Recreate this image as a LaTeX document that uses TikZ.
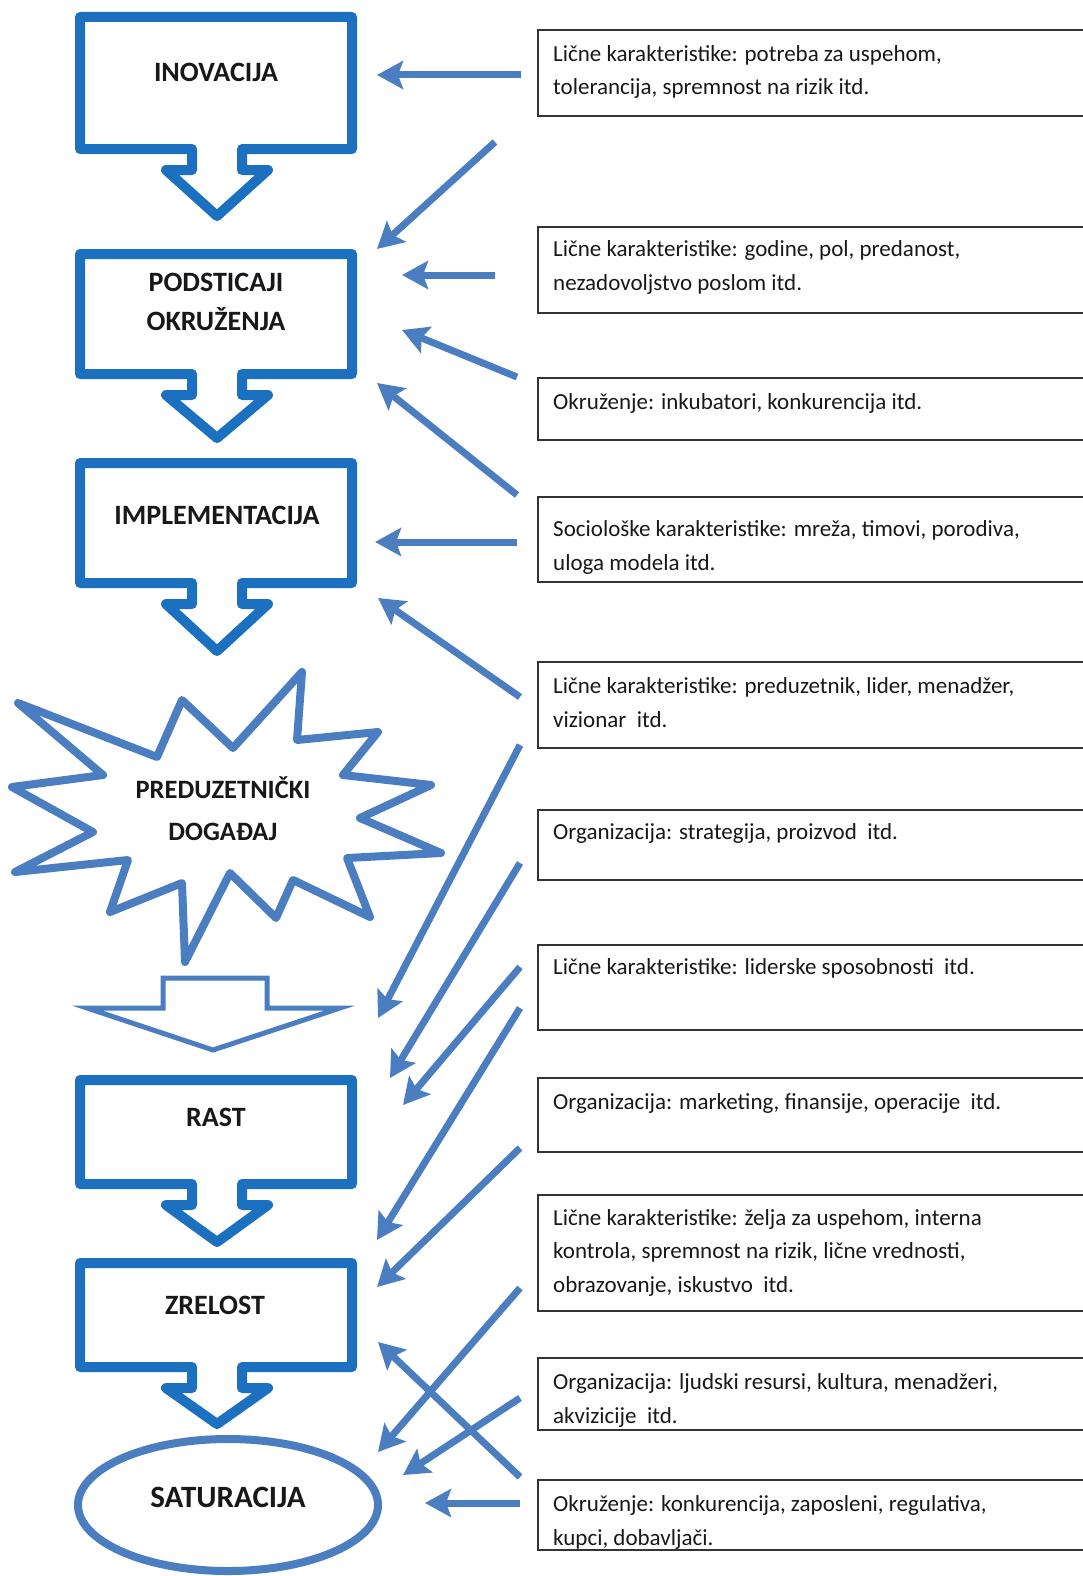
\documentclass[tikz,border=0pt]{standalone}
\usepackage{fontspec}
\setmainfont{Carlito}
\usetikzlibrary{arrows.meta}
\definecolor{boxblue}{RGB}{28,112,192}
\definecolor{flowblue}{RGB}{74,126,192}
\definecolor{ink}{RGB}{24,24,24}
\begin{document}
\begin{tikzpicture}[x=1pt,y=-1pt,
  procline/.style={draw=boxblue, line width=10pt, line join=round},
  shapeline/.style={draw=flowblue, line width=8pt, line join=round},
  proctext/.style={font=\fontsize{28}{39}\selectfont\bfseries, text=ink, align=center, inner sep=0pt},
  factbox/.style={draw=black!80, line width=2pt},
  % the base anchor of a multi-line node sits on its last line
  facttext/.style={font=\fontsize{23}{33.5}\selectfont, text=ink, align=left, anchor=base west, inner sep=0pt},
  flow/.style={draw=flowblue, line width=7pt, -{Stealth[length=26pt,width=28pt,inset=5pt]}},
  ]
\useasboundingbox (0,0) rectangle (1083,1576);
\clip (0,0) rectangle (1083,1576);

% ---------- process stages: box with a downward arrow below ----------
% #1 top, #2 bottom, #3 arrow depth below the box
\newcommand\stagebox[3]{%
  \draw[procline] (80,#1) -- (352,#1) -- (352,#2) -- (242,#2) -- (242,#2+21)
    -- (268,#2+21) -- (217,#2+#3) -- (166,#2+21) -- (192,#2+21) -- (192,#2)
    -- (80,#2) -- cycle;}
\stagebox{17}{149}{67}
\stagebox{254}{374}{64}
\stagebox{463}{583}{68}
\stagebox{1080}{1184}{58}
\stagebox{1263}{1367}{57}

\node[proctext] (inov) at (216,72) {INOVACIJA};
\node[proctext] (podst) at (216,302) {PODSTICAJI\\OKRUŽENJA};
\node[proctext] (impl) at (217,515) {IMPLEMENTACIJA};
\node[proctext] (rast) at (216,1117) {RAST};
\node[proctext] (zrel) at (215,1305) {ZRELOST};

% ---------- entrepreneurial event: burst ----------
\draw[shapeline] (302,672) -- (297,740) -- (378,732) -- (343,775) -- (431,785)
  -- (360,818) -- (441,853) -- (347,858) -- (370,917) -- (293,880) -- (276,918)
  -- (230,873) -- (185,962) -- (182,883) -- (110,912) -- (128,860) -- (15,872)
  -- (93,832) -- (12,787) -- (103,775) -- (18,703) -- (157,757) -- (182,700)
  -- (233,748) -- cycle;
\node[proctext, font=\fontsize{26.5}{42}\selectfont\bfseries] (event) at (223,809) {PREDUZETNIČKI\\DOGAĐAJ};

% hollow block arrow under the burst
\draw[draw=flowblue, line width=5pt, line join=miter] (163,978) -- (267,978) -- (267,1008)
  -- (340,1008) -- (213,1050) -- (87,1008) -- (163,1008) -- cycle;

% ---------- saturation ----------
\draw[shapeline] (228,1505) ellipse [x radius=150pt, y radius=66pt];
\node[proctext, font=\fontsize{31}{36}\selectfont\bfseries] (satur) at (228,1497) {SATURACIJA};

% ---------- factor boxes ----------
\draw[factbox] (538,30) rectangle (1100,116);
\node[facttext] (f1) at (553,95) {Lične karakteristike: potreba za uspehom,\\tolerancija, spremnost na rizik itd.};
\draw[factbox] (538,227) rectangle (1100,313);
\node[facttext] (f2) at (553,290) {Lične karakteristike: godine, pol, predanost,\\nezadovoljstvo poslom itd.};
\draw[factbox] (538,378) rectangle (1100,440);
\node[facttext] (f3) at (553,409) {Okruženje: inkubatori, konkurencija itd.};
\draw[factbox] (538,497) rectangle (1100,582);
\node[facttext] (f4) at (553,570) {Sociološke karakteristike: mreža, timovi, porodiva,\\uloga modela itd.};
\draw[factbox] (538,662) rectangle (1100,748);
\node[facttext] (f5) at (553,727) {Lične karakteristike: preduzetnik, lider, menadžer,\\vizionar\ \ itd.};
\draw[factbox] (538,810) rectangle (1100,880);
\node[facttext] (f6) at (553,839) {Organizacija: strategija, proizvod\ \ itd.};
\draw[factbox] (538,945) rectangle (1100,1030);
\node[facttext] (f7) at (553,974) {Lične karakteristike: liderske sposobnosti\ \ itd.};
\draw[factbox] (538,1078) rectangle (1100,1152);
\node[facttext] (f8) at (553,1109) {Organizacija: marketing, finansije, operacije\ \ itd.};
\draw[factbox] (538,1195) rectangle (1100,1311);
\node[facttext] (f9) at (553,1292) {Lične karakteristike: želja za uspehom, interna\\kontrola, spremnost na rizik, lične vrednosti,\\obrazovanje, iskustvo\ \ itd.};
\draw[factbox] (538,1358) rectangle (1100,1430);
\node[facttext] (f10) at (553,1423) {Organizacija: ljudski resursi, kultura, menadžeri,\\akvizicije\ \ itd.};
\begin{scope}
  \clip (538,1480) rectangle (1100,1550);
  \node[facttext] (f11) at (553,1545) {Okruženje: konkurencija, zaposleni, regulativa,\\kupci, dobavljači.};
\end{scope}
\draw[factbox] (538,1480) rectangle (1100,1550);

% ---------- influence arrows ----------
\foreach \n/\sx/\sy/\ex/\ey in {
   1/521/75/377/75,
   2/495/142/377/249,
   3/495/275/402/275,
   4/517/377/402/330,
   5/517/495/377/383,
   6/517/542/375/542,
   7/520/697/378/598,
   8/520/745/378/1018,
   9/520/863/390/1078,
  10/520/967/403/1105,
  11/520/1008/377/1240,
  12/520/1148/377/1287,
  13/520/1288/378/1452,
  14/520/1398/403/1475,
  15/520/1477/378/1342,
  16/520/1503/425/1503}{
  \coordinate (s\n) at (\sx,\sy);
  \coordinate (e\n) at (\ex,\ey);
  \draw[flow] (s\n) -- (e\n);
}
\end{tikzpicture}
\end{document}
